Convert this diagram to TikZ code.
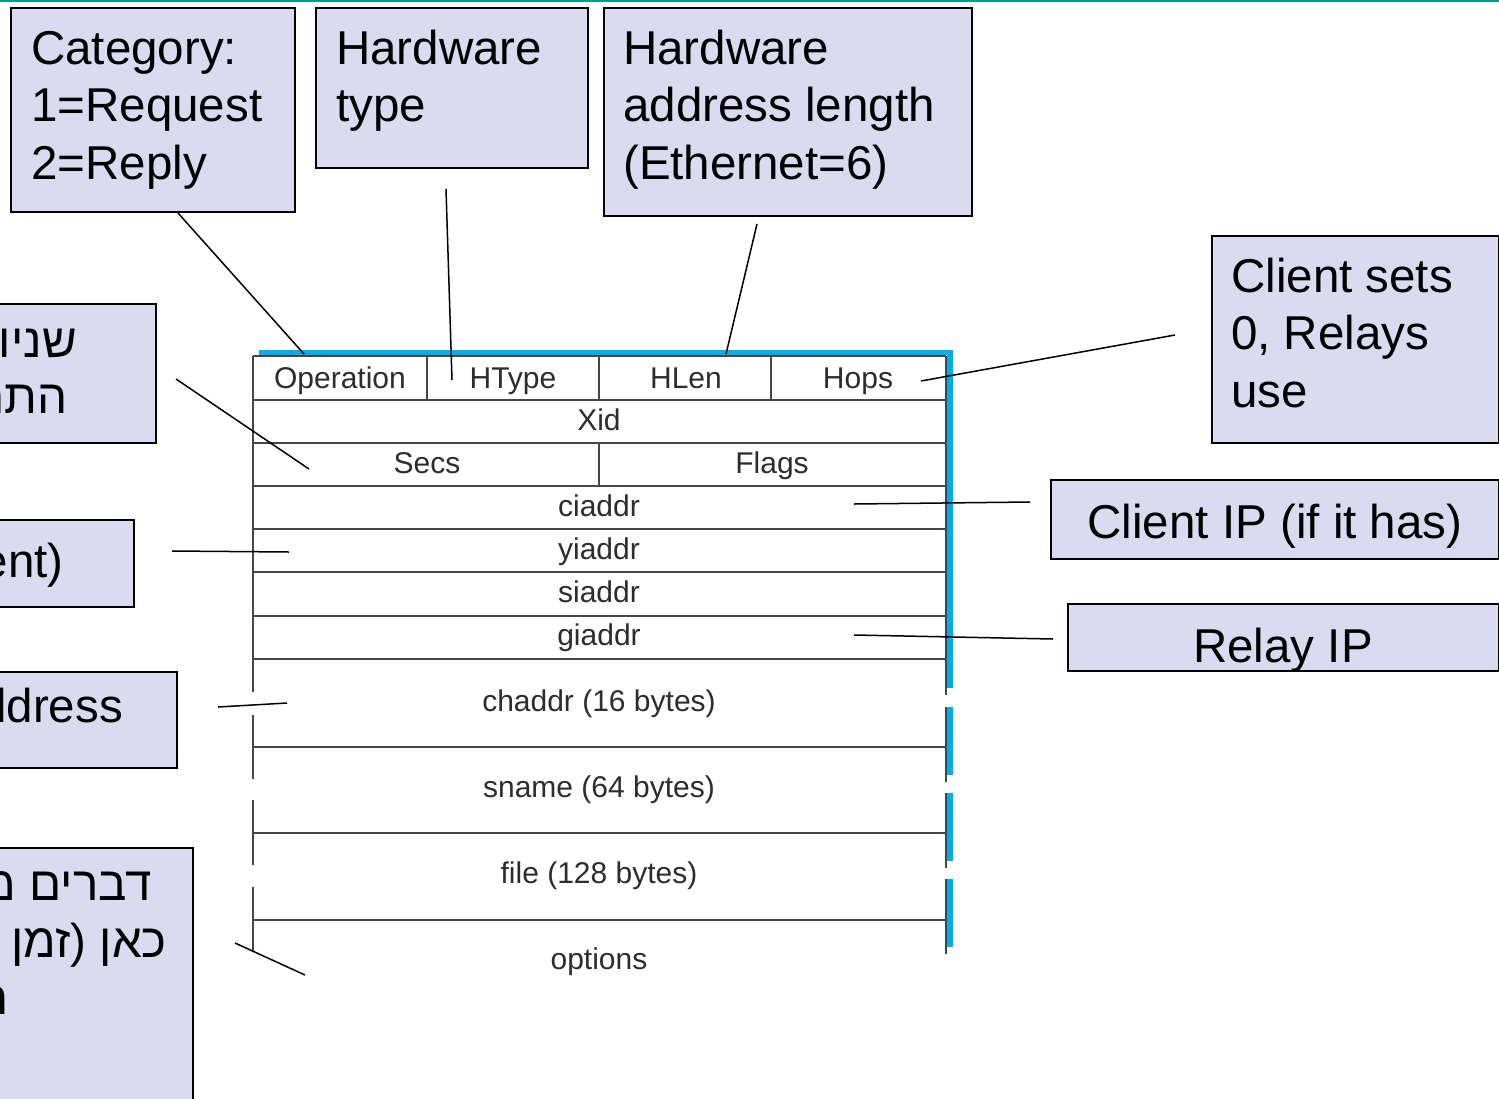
\documentclass[tikz,border=0pt]{standalone}
\usepackage{fontspec}
\setmainfont{Liberation Sans}
\newfontfamily\hebfont[Script=Hebrew]{Liberation Sans}
\TeXXeTstate=1
\definecolor{boxfill}{RGB}{218,218,240}
\definecolor{fieldblue}{RGB}{0,174,239}
\definecolor{topteal}{RGB}{0,150,150}
\definecolor{tabline}{RGB}{70,70,70}
\definecolor{tabtext}{RGB}{45,45,45}
\tikzset{
  lbox/.style={draw=black, line width=2pt, fill=boxfill, inner sep=0pt, anchor=north west},
  ltext/.style={font=\fontsize{47.5}{57.5}\selectfont, inner sep=0pt, anchor=north west, align=left},
  stext/.style={font=\fontsize{47.5}{57.5}\selectfont, inner sep=0pt, anchor=base},
  htext/.style={font=\hebfont\fontsize{47.5}{57.5}\selectfont, inner sep=0pt, anchor=base east},
  conn/.style={draw=black, line width=1.5pt},
  tline/.style={draw=tabline, line width=2.3pt},
  blueb/.style={draw=fieldblue, line width=6pt},
  field/.style={font=\fontsize{30}{36}\selectfont, text=tabtext, inner sep=0pt, anchor=base},
}
\begin{document}
\begin{tikzpicture}[x=1pt, y=-1pt]
\useasboundingbox (0,0) rectangle (1499,1098);
\clip (0,0) rectangle (1499,1098);
\fill[white] (0,0) rectangle (1499,1098);
\draw[topteal, line width=2.5pt] (0,1) -- (1499,1);

% ---------- label boxes ----------
\node[lbox, minimum width=284pt, minimum height=204pt] (cat) at (10,7) {};
\node[lbox, minimum width=272pt, minimum height=160pt] (hwt) at (315,7) {};
\node[lbox, minimum width=368pt, minimum height=208pt] (hwl) at (603,7) {};
\node[lbox, minimum width=175pt, minimum height=139pt] (heb1) at (-20,303) {};
\node[lbox, minimum width=153pt, minimum height=87pt] (yib) at (-20,519) {};
\node[lbox, minimum width=196pt, minimum height=96pt] (chb) at (-20,671) {};
\node[lbox, minimum width=212pt, minimum height=270pt] (heb2) at (-20,847) {};
\node[lbox, minimum width=287pt, minimum height=207pt] (csb) at (1211,235) {};
\node[lbox, minimum width=448pt, minimum height=79pt] (cipb) at (1050,479) {};
\node[lbox, minimum width=431pt, minimum height=67pt] (ripb) at (1067,603) {};

\node[ltext] (catt) at (31,23.75) {\strut Category:\\1=Request\\2=Reply};
\node[ltext] (hwtt) at (336,23.75) {\strut Hardware\\type};
\node[ltext] (hwlt) at (623,23.75) {\strut Hardware\\address length\\(Ethernet=6)};
\node[ltext] (cst) at (1231,251.75) {\strut Client sets\\0, Relays\\use};
\node[stext] (cipt) at (1275,538) {Client IP (if it has)};
\node[stext] (ript) at (1283,662) {Relay IP};
\node[stext, anchor=base east] (yit) at (64,577) {ent)};
\node[stext, anchor=base east] (cht) at (123,722) {ddress};
\node[htext] (h1a) at (77,357) {\beginR שניות\endR};
\node[htext] (h1b) at (68,413) {\beginR התחל\endR};
\node[htext] (h2a) at (152,900) {\beginR דברים מי\endR};
\node[htext] (h2b) at (167,957) {\beginR כאן (זמן ה\endR};
\node[htext] (h2c) at (9,1014) {\beginR הה\endR};

% ---------- packet table ----------
\foreach \y in {356,400,443,486,529,572,616,659,747,833,920}
  \draw[tline] (253,\y) -- (946,\y);
\foreach \x in {427,599,771}
  \draw[tline] (\x,356) -- (\x,400);
\draw[tline] (599,443) -- (599,486);
\foreach \a/\b in {356/692, 715/779, 800/865, 887/952}
  \draw[tline] (253,\a) -- (253,\b);
\foreach \a/\b in {356/695, 707/782, 793/868, 879/954}
  \draw[tline] (946,\a) -- (946,\b);
\draw[fieldblue, line width=5pt] (259,352.5) -- (952.5,352.5);
\foreach \a/\b in {350/688, 707/775, 793/861, 879/947}
  \draw[blueb] (949.5,\a) -- (949.5,\b);

\node[field] (fop) at (340,388) {Operation};
\node[field] (fht) at (513,388) {HType};
\node[field] (fhl) at (686,388) {HLen};
\node[field] (fhops) at (858,388) {Hops};
\node[field] (fxid) at (599,430) {Xid};
\node[field] (fsecs) at (427,473) {Secs};
\node[field] (fflags) at (772,473) {Flags};
\node[field] (fci) at (599,516) {ciaddr};
\node[field] (fyi) at (599,559) {yiaddr};
\node[field] (fsi) at (599,602) {siaddr};
\node[field] (fgi) at (599,645) {giaddr};
\node[field] (fch) at (599,711) {chaddr (16 bytes)};
\node[field] (fsn) at (599,797) {sname (64 bytes)};
\node[field] (ffile) at (599,883) {file (128 bytes)};
\node[field] (fopt) at (599,969) {options};

% ---------- connectors ----------
\coordinate (c1a) at (178,213);  \coordinate (c1b) at (304,354);
\coordinate (c2a) at (446,189);  \coordinate (c2b) at (452,380);
\coordinate (c3a) at (757,224);  \coordinate (c3b) at (726,354);
\coordinate (c4a) at (1175,335); \coordinate (c4b) at (921,381);
\coordinate (c5a) at (176,379);  \coordinate (c5b) at (309,469);
\coordinate (c6a) at (172,551);  \coordinate (c6b) at (289,552);
\coordinate (c7a) at (1030,502); \coordinate (c7b) at (854,504);
\coordinate (c8a) at (1053,639); \coordinate (c8b) at (854,635);
\coordinate (c9a) at (218,707);  \coordinate (c9b) at (287,703);
\coordinate (c10a) at (235,943); \coordinate (c10b) at (305,975);
\foreach \i in {1,...,10}
  \draw[conn] (c\i a) -- (c\i b);
\end{tikzpicture}
\end{document}
